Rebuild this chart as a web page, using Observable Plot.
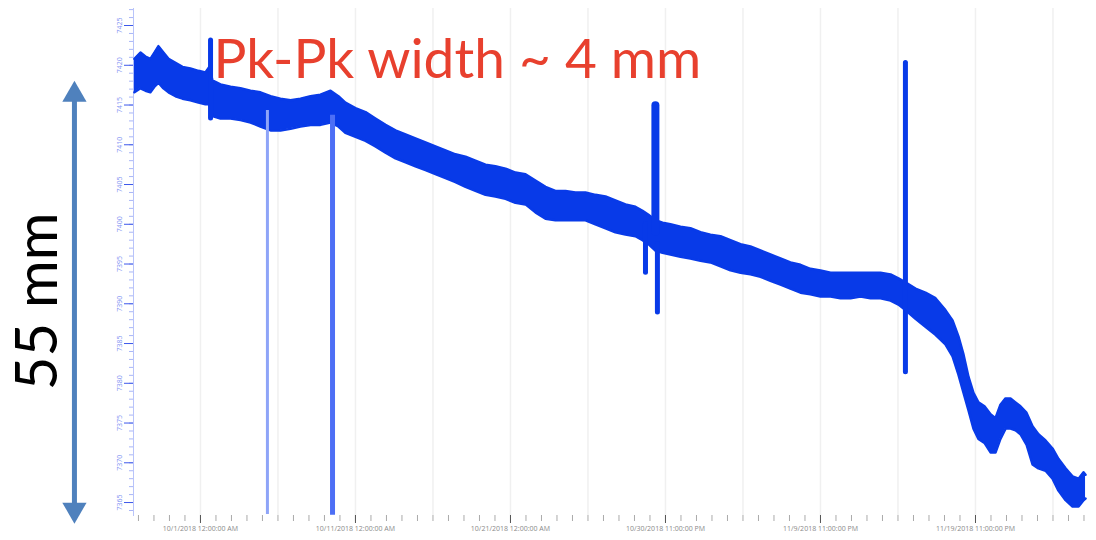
<!DOCTYPE html>
<html>
<head>
<meta charset="utf-8">
<script src="https://cdn.jsdelivr.net/npm/d3@7"></script>
<script src="https://cdn.jsdelivr.net/npm/@observablehq/plot@0.6"></script>
<style>
  html, body { margin: 0; padding: 0; background: #fff; }
  #chart svg { display: block; }
</style>
</head>
<body>
<div id="chart"></div>
<script>
// ---- data (days since 10/1/2018 00:00, position in mm) ----
const bandDay = [-4.26,-3.87,-3.55,-3.23,-2.97,-2.71,-2.39,-2.06,-1.61,-1.16,-0.65,-0.13,0.32,0.58,0.77,1.29,1.94,2.58,3.23,3.87,4.52,5.16,5.81,6.45,7.10,7.74,8.39,8.90,9.35,10.0,10.65,11.29,11.94,12.58,13.23,13.87,14.52,15.16,15.81,16.45,17.10,17.74,18.39,19.03,19.68,20.32,20.97,21.61,22.26,22.90,23.55,24.19,24.84,25.48,26.13,26.77,27.42,28.06,28.52,28.90,29.35,29.81,30.32,30.97,31.61,32.26,32.90,33.55,34.19,34.84,35.48,36.13,36.77,37.42,38.06,38.71,39.35,40.0,40.65,41.29,41.94,42.58,43.23,43.87,44.52,45.03,45.48,46.13,46.77,47.42,48.06,48.52,48.90,49.23,49.55,49.87,50.19,50.58,50.97,51.29,51.61,51.94,52.26,52.58,52.90,53.29,53.68,54.06,54.52,54.97,55.35,55.81,56.26,56.65,56.97,57.10];
const bandTop = [7420.8,7421.6,7421.1,7420.8,7421.6,7422.4,7421.6,7420.8,7420.3,7419.8,7419.6,7419.3,7419.1,7419.8,7418.1,7417.6,7417.3,7417.1,7416.8,7416.6,7416.1,7415.8,7415.6,7415.8,7416.1,7416.3,7416.8,7416.1,7415.3,7414.6,7414.1,7413.3,7412.5,7411.8,7411.3,7410.8,7410.3,7409.8,7409.3,7408.8,7408.5,7408.0,7407.5,7407.3,7407.0,7406.5,7406.3,7405.5,7404.7,7404.2,7404.2,7404.0,7404.0,7403.7,7403.5,7403.0,7402.5,7402.2,7401.7,7401.2,7400.5,7400.2,7400.0,7399.7,7399.5,7399.0,7398.7,7398.5,7398.0,7397.5,7397.2,7396.7,7396.2,7395.7,7395.2,7394.9,7394.4,7394.2,7393.9,7393.9,7393.9,7393.9,7393.9,7393.9,7393.7,7393.2,7392.7,7391.9,7391.4,7390.7,7389.2,7387.9,7385.9,7383.6,7380.8,7378.8,7377.6,7377.1,7376.1,7375.6,7377.3,7378.1,7378.1,7377.6,7377.1,7376.3,7374.6,7373.6,7372.8,7371.8,7370.5,7369.3,7368.3,7368.0,7368.8,7368.5];
const bandBottom = [7416.6,7417.1,7416.8,7416.6,7417.3,7417.8,7417.1,7416.6,7416.1,7415.8,7415.6,7415.3,7415.1,7415.1,7413.6,7413.3,7413.3,7413.1,7412.8,7412.3,7411.8,7411.8,7412.0,7412.3,7412.5,7412.5,7412.8,7412.3,7411.5,7411.0,7410.5,7409.8,7409.0,7408.3,7407.8,7407.3,7406.8,7406.3,7405.8,7405.3,7404.7,7404.2,7403.7,7403.5,7403.2,7402.7,7402.5,7401.5,7400.7,7400.5,7400.5,7400.5,7400.5,7400.0,7399.5,7399.0,7398.7,7398.5,7398.0,7397.5,7396.7,7396.4,7396.2,7395.9,7395.7,7395.4,7395.2,7394.7,7394.2,7393.9,7393.7,7393.4,7392.9,7392.4,7391.9,7391.4,7391.2,7390.9,7390.9,7390.7,7390.7,7390.9,7390.7,7390.7,7390.4,7389.9,7389.2,7388.1,7387.1,7386.1,7384.9,7383.4,7381.1,7378.8,7376.6,7374.3,7373.0,7372.5,7371.3,7371.3,7373.0,7374.3,7374.3,7374.1,7373.6,7372.3,7369.8,7369.3,7369.0,7368.0,7366.5,7365.3,7364.5,7364.5,7365.3,7365.5];

// outlier spikes
const spikeDay    = [0.65, 4.32, 8.52, 28.71, 29.35, 29.48, 45.48];
const spikeHigh   = [7423.1, 7414.3, 7413.7, 7400.0, 7414.9, 7397.5, 7420.3];
const spikeLow    = [7413.3, 7363.5, 7363.4, 7393.9, 7399.0, 7388.9, 7381.4];
const spikeKind   = ["dark", "faint", "medium", "dark", "thick", "dark", "dark"];

// axes
const yTicks = [7365,7370,7375,7380,7385,7390,7395,7400,7405,7410,7415,7420,7425];
const xMajorDays = [0, 10, 20, 30, 40, 50];
const xLabels = ["10/1/2018 12:00:00 AM","10/11/2018 12:00:00 AM","10/21/2018 12:00:00 AM","10/30/2018 11:00:00 PM","11/9/2018 11:00:00 PM","11/19/2018 11:00:00 PM"];

// annotations
const annotTitle = "Pk-Pk width ~ 4 mm";
const annotSpan = "55 mm";
const spanFrom = 7364.1, spanTo = 7416.3;

// ---- build ----
const band = bandDay.map((d, i) => ({day: d, top: bandTop[i], bottom: bandBottom[i]}));
const spikes = spikeDay.map((d, i) => ({day: d, high: spikeHigh[i], low: spikeLow[i], kind: spikeKind[i]}));
const labelOf = new Map(xMajorDays.map((d, i) => [d, xLabels[i]]));
const BLUE = "#083ae8";
const arrowDay = -8.13;

const chart = Plot.plot({
  width: 1096, height: 540,
  marginLeft: 133, marginRight: 6, marginTop: 8, marginBottom: 25,
  x: {domain: [-4.32, 57.42], label: null},
  y: {domain: [7363.37, 7427.14], label: null},
  style: {background: "#fff", fontFamily: "Open Sans, sans-serif", overflow: "visible"},
  marks: [
    Plot.gridX(d3.range(0, 56, 5), {stroke: "#f0f0f0", strokeOpacity: 1, strokeWidth: 1.5}),
    // x axis minor / major
    Plot.axisX(d3.range(-4, 58, 1), {tickSize: 6, tickFormat: () => "", stroke: "#aaa", tickPadding: 0, label: null}),
    Plot.axisX(xMajorDays, {tickSize: 8, tickFormat: d => labelOf.get(d), fontSize: 7, fill: "#8a8a8a", stroke: "#555", tickPadding: 3, label: null}),
    // y axis minor / major
    Plot.axisY(d3.range(7364, 7428, 1), {tickSize: 4, tickFormat: () => "", stroke: "#a9b6f7", label: null}),
    Plot.axisY(yTicks, {tickSize: 9, tickRotate: -90, tickFormat: d => String(d), fontSize: 7, fill: "#8596f3", stroke: "#3c58ea", tickPadding: 3, label: null}),
    Plot.frame({anchor: "left", stroke: "#b9c4fa"}),
    // measured band
    Plot.areaY(band, {x: "day", y1: "bottom", y2: "top", fill: BLUE, curve: "linear"}),
    Plot.line(band, {x: "day", y: "top", stroke: BLUE, strokeWidth: 2.5, strokeLinejoin: "round"}),
    Plot.line(band, {x: "day", y: "bottom", stroke: BLUE, strokeWidth: 2.5, strokeLinejoin: "round"}),
    // spikes
    Plot.ruleX(spikes.filter(s => s.kind === "faint"), {x: "day", y1: "low", y2: "high", stroke: "#8ea4f8", strokeWidth: 3}),
    Plot.ruleX(spikes.filter(s => s.kind === "medium"), {x: "day", y1: "low", y2: "high", stroke: "#4d6ff5", strokeWidth: 5}),
    Plot.ruleX(spikes.filter(s => s.kind === "dark"), {x: "day", y1: "low", y2: "high", stroke: BLUE, strokeWidth: 5, strokeLinecap: "round"}),
    Plot.ruleX(spikes.filter(s => s.kind === "thick"), {x: "day", y1: "low", y2: "high", stroke: BLUE, strokeWidth: 8, strokeLinecap: "round"}),
    // annotations
    Plot.ruleX([0], {x: () => arrowDay, y1: () => spanFrom, y2: () => spanTo, stroke: "#4f81bd", strokeWidth: 5}),
    Plot.dot([spanTo], {x: () => arrowDay, y: d => d, symbol: "triangle", r: 9, fill: "#4f81bd"}),
    Plot.dot([spanFrom], {x: () => arrowDay, y: d => d, symbol: "triangle", r: 9, fill: "#4f81bd", rotate: 180}),
    Plot.text([annotSpan], {x: () => -10.45, y: () => 7390.3, text: d => d, rotate: -90, fontSize: 58, fill: "#000", fontFamily: "Lato, sans-serif", ariaLabel: "annot-span"}),
    Plot.text([annotTitle], {x: () => 0.84, y: () => 7420.6, text: d => d, textAnchor: "start", fontSize: 55, fill: "#e8402e", fontFamily: "Lato, sans-serif", ariaLabel: "annot-title"})
  ]
});
document.getElementById("chart").appendChild(chart);
d3.select(chart).select('g[aria-label="annot-title"] text').attr("textLength", 509).attr("lengthAdjust", "spacingAndGlyphs");
d3.select(chart).select('g[aria-label="annot-span"] text').attr("textLength", 182).attr("lengthAdjust", "spacingAndGlyphs");
</script>
</body>
</html>
